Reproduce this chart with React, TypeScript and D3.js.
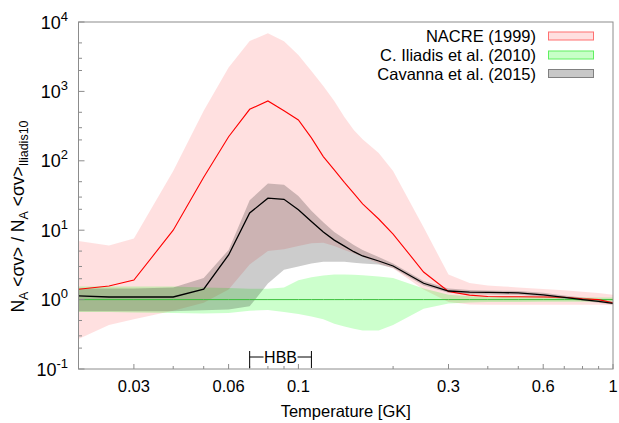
import React from "react";
import * as d3 from "d3";

// Temperature grid [GK]
const temps = [0.02, 0.025, 0.03, 0.04, 0.05, 0.06, 0.07, 0.08, 0.09, 0.1, 0.11, 0.12, 0.13, 0.14, 0.15, 0.16, 0.18, 0.2, 0.25, 0.3, 0.35, 0.4, 0.45, 0.5, 0.6, 0.7, 0.8, 0.9, 1.0];

// NACRE (1999) ratio to Iliadis 2010
const nacreMid = [1.41, 1.57, 1.91, 10, 58, 222, 552, 728, 527, 387, 214, 115, 74, 49, 34, 24, 14.5, 8.8, 2.5, 1.31, 1.16, 1.11, 1.1, 1.1, 1.09, 1.08, 1.03, 1.0, 0.9];
const nacreHigh = [7.0, 6.0, 7.6, 71, 525, 2210, 5320, 6870, 5300, 3340, 1970, 1200, 725, 427, 277, 205, 130, 71, 11, 2.3, 1.74, 1.6, 1.55, 1.5, 1.42, 1.36, 1.3, 1.24, 1.17];
const nacreLow = [0.27, 0.43, 0.52, 0.69, 0.9, 1.4, 3.2, 5.0, 5.3, 5.9, 6.5, 6.6, 5.9, 5.2, 4.6, 4.1, 3.3, 2.8, 1.4, 0.92, 0.85, 0.84, 0.84, 0.84, 0.84, 0.84, 0.84, 0.84, 0.83];

// C. Iliadis et al. (2010) — reference (central value = 1)
const iliadisMid = [1, 1, 1, 1, 1, 1, 1, 1, 1, 1, 1, 1, 1, 1, 1, 1, 1, 1, 1, 1, 1, 1, 1, 1, 1, 1, 1, 1, 1];
const iliadisHigh = [1.55, 1.55, 1.55, 1.55, 1.5, 1.47, 1.43, 1.43, 1.5, 1.9, 2.1, 2.22, 2.3, 2.3, 2.28, 2.25, 2.15, 2.04, 1.45, 1.17, 1.12, 1.1, 1.1, 1.1, 1.09, 1.08, 1.07, 1.07, 1.07];
const iliadisLow = [0.66, 0.66, 0.65, 0.64, 0.63, 0.64, 0.69, 0.71, 0.66, 0.62, 0.57, 0.52, 0.45, 0.41, 0.38, 0.36, 0.36, 0.43, 0.74, 0.88, 0.91, 0.92, 0.92, 0.92, 0.93, 0.93, 0.93, 0.94, 0.94];

// Cavanna et al. (2015)
const cavannaMid = [1.13, 1.09, 1.09, 1.09, 1.41, 4.4, 17.7, 28.9, 27.9, 19.7, 13.3, 9.4, 7.2, 5.9, 4.9, 4.25, 3.6, 3.05, 1.72, 1.33, 1.28, 1.27, 1.26, 1.25, 1.17, 1.08, 1.0, 0.94, 0.88];
const cavannaHigh = [1.45, 1.45, 1.45, 1.5, 2.05, 5.2, 27, 47, 45, 31, 19, 13, 9.4, 7.5, 6.1, 5.2, 4.1, 3.3, 1.85, 1.45, 1.37, 1.35, 1.34, 1.33, 1.25, 1.15, 1.07, 1.0, 0.93];
const cavannaLow = [0.68, 0.68, 0.68, 0.68, 0.7, 0.72, 0.8, 1.7, 2.7, 3.0, 3.3, 3.5, 3.5, 3.5, 3.4, 3.3, 3.2, 2.85, 1.6, 1.25, 1.19, 1.18, 1.17, 1.17, 1.1, 1.02, 0.96, 0.9, 0.85];

// Axis ticks
const xMajorTicks = [0.03, 0.06, 0.1, 0.3, 0.6, 1];
const xTickLabels = ["0.03", "0.06", "0.1", "0.3", "0.6", "1"];
const xMinorTicks = [0.02, 0.04, 0.05, 0.07, 0.08, 0.09, 0.2, 0.4, 0.5, 0.7, 0.8, 0.9];
const yExponents = [-1, 0, 1, 2, 3, 4];
const yMinorMultipliers = [2, 3, 5];
const hbbRange = [0.07, 0.11];

const legendLabels = ["NACRE (1999)", "C. Iliadis et al. (2010)", "Cavanna et al. (2015)"];

const FONT = "'Liberation Sans', Arial, sans-serif";

export default function App() {
  const W = 619, H = 423;
  const left = 78.5, right = 613, top = 22, bottom = 369;
  const x = d3.scaleLog().domain([0.02, 1]).range([left, right]);
  const y = d3.scaleLog().domain([0.1, 1e4]).range([bottom, top]);

  const band = (lo: number[], hi: number[]) =>
    d3.area<number>()
      .x((d) => x(d))
      .y0((_d, i) => y(lo[i]))
      .y1((_d, i) => y(hi[i]))(temps) || "";
  const line = (v: number[]) =>
    d3.line<number>()
      .x((d) => x(d))
      .y((_d, i) => y(v[i]))(temps) || "";

  const yMinor: number[] = [];
  for (let e = -1; e < 4; e++) for (const m of yMinorMultipliers) yMinor.push(m * Math.pow(10, e));

  const legendColors = [
    { fill: "#ffe0e0", stroke: "#ff7070" },
    { fill: "#c8ffc8", stroke: "#60f060" },
    { fill: "#c8c8c8", stroke: "#808080" },
  ];
  const legendY = [36, 55, 73.5];

  const hx0 = x(hbbRange[0]);
  const hx1 = x(hbbRange[1]);
  const hmid = (hx0 + hx1) / 2;
  const hy = 357;

  return (
    <svg width={W} height={H} style={{ position: "absolute", left: 0, top: 0, background: "#fff" }} fontFamily={FONT}>
      <rect x={0} y={0} width={W} height={H} fill="#fff" />
      <defs>
        <clipPath id="plotclip">
          <rect x={left} y={top} width={right - left} height={bottom - top} />
        </clipPath>
      </defs>
      <g clipPath="url(#plotclip)">
        <path d={band(nacreLow, nacreHigh)} fill="rgba(255,0,0,0.12)" />
        <path d={band(iliadisLow, iliadisHigh)} fill="rgba(0,255,0,0.2)" />
        <path d={band(cavannaLow, cavannaHigh)} fill="rgba(0,0,0,0.2)" />
        <path d={line(iliadisMid)} fill="none" stroke="#3cbf3c" strokeWidth={1} />
        <path d={line(nacreMid)} fill="none" stroke="#ff0000" strokeWidth={1.1} />
        <path d={line(cavannaMid)} fill="none" stroke="#000" strokeWidth={1.3} />
      </g>

      {/* frame */}
      <rect x={left} y={top} width={right - left} height={bottom - top} fill="none" stroke="#8c8c8c" strokeWidth={1} />

      {/* x ticks */}
      {xMajorTicks.map((t, i) => (
        <g key={"xm" + i}>
          <line x1={x(t)} x2={x(t)} y1={bottom} y2={bottom - 5} stroke="#8c8c8c" />
          <text x={x(t)} y={392} fontSize={16.5} textAnchor="middle" fill="#000">{xTickLabels[i]}</text>
        </g>
      ))}
      {xMinorTicks.map((t, i) => (
        <line key={"xn" + i} x1={x(t)} x2={x(t)} y1={bottom} y2={bottom - 3} stroke="#8c8c8c" />
      ))}
      <text x={(left + right) / 2} y={417} fontSize={16.5} textAnchor="middle" fill="#000">Temperature [GK]</text>

      {/* y ticks */}
      {yExponents.map((e) => {
        const v = Math.pow(10, e);
        return (
          <g key={"ye" + e}>
            <line x1={left} x2={left + 6} y1={y(v)} y2={y(v)} stroke="#8c8c8c" />
            <text x={68} y={y(v) + 6.5} fontSize={18} textAnchor="end" fill="#000">
              10<tspan dy={-8} fontSize={13}>{String(e)}</tspan>
            </text>
          </g>
        );
      })}
      {yMinor.map((v, i) => (
        <line key={"yn" + i} x1={left} x2={left + 3.5} y1={y(v)} y2={y(v)} stroke="#8c8c8c" />
      ))}

      {/* y title */}
      <text transform="translate(24,216.5) rotate(-90)" fontSize={17.5} textAnchor="middle" fill="#000">
        N<tspan dy={4} fontSize={12.5}>A</tspan>
        <tspan dy={-4}>{" <σv> / N"}</tspan>
        <tspan dy={4} fontSize={12.5}>A</tspan>
        <tspan dy={-4}>{" <σv>"}</tspan>
        <tspan dy={4} fontSize={12.5}>Iliadis10</tspan>
      </text>

      {/* HBB bracket */}
      <line x1={hx0} x2={hx0} y1={351} y2={368} stroke="#000" strokeWidth={1} />
      <line x1={hx1} x2={hx1} y1={351} y2={368} stroke="#000" strokeWidth={1} />
      <line x1={hx0} x2={hmid - 17} y1={hy} y2={hy} stroke="#000" strokeWidth={1} />
      <line x1={hmid + 17} x2={hx1} y1={hy} y2={hy} stroke="#000" strokeWidth={1} />
      <text x={hmid} y={hy + 6} fontSize={16} textAnchor="middle" fill="#000">HBB</text>

      {/* legend */}
      {legendLabels.map((lab, i) => (
        <g key={"lg" + i}>
          <text x={536} y={legendY[i] + 6} fontSize={16.5} textAnchor="end" fill="#000">{lab}</text>
          <rect x={548.5} y={legendY[i] - 4} width={45} height={8} fill={legendColors[i].fill} stroke={legendColors[i].stroke} strokeWidth={1} />
        </g>
      ))}
    </svg>
  );
}
